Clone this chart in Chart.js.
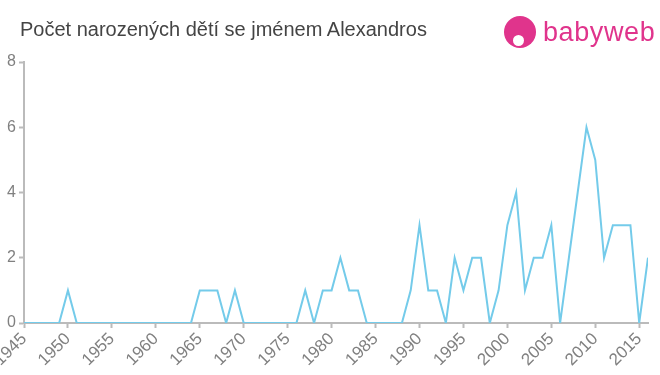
<!DOCTYPE html>
<html lang="cs">
<head>
  <meta charset="UTF-8" />
  <title>Alexandros</title>
  <script src="https://cdn.jsdelivr.net/npm/chart.js"></script>
  <style>
    body { margin: 0; background: #fff; font-family: "Liberation Sans", Arial, sans-serif; }
    .wrap { position: relative; width: 660px; height: 375px; }
    .nadpis { position: absolute; left: 20px; top: 18px; font-size: 20px; color: #444; }
    .logo { position: absolute; left: 504px; top: 15px; height: 34px; display: flex; align-items: center; }
    .logo .ikona { width: 32px; height: 32px; border-radius: 50%; background: #e0348c; position: relative; }
    .logo .ikona::after { content: ""; position: absolute; left: 9px; top: 19px; width: 11px; height: 11px; border-radius: 50%; background: #fff; }
    .logo span { font-size: 27px; color: #e0348c; margin-left: 7px; letter-spacing: 0.6px; }
    canvas { position: absolute; left: 0; top: 0; }
  </style>
</head>
<body>
  <div class="wrap">
    <canvas id="graf" width="660" height="375"></canvas>
    <div class="nadpis">Počet narozených dětí se jménem Alexandros</div>
    <div class="logo"><div class="ikona"></div><span>babyweb</span></div>
  </div>

  <script>
    // roky a pocty narozenych
    const roky = [1945, 1946, 1947, 1948, 1949, 1950, 1951, 1952, 1953, 1954, 1955, 1956, 1957, 1958, 1959,
      1960, 1961, 1962, 1963, 1964, 1965, 1966, 1967, 1968, 1969, 1970, 1971, 1972, 1973, 1974,
      1975, 1976, 1977, 1978, 1979, 1980, 1981, 1982, 1983, 1984, 1985, 1986, 1987, 1988, 1989,
      1990, 1991, 1992, 1993, 1994, 1995, 1996, 1997, 1998, 1999, 2000, 2001, 2002, 2003, 2004,
      2005, 2006, 2007, 2008, 2009, 2010, 2011, 2012, 2013, 2014, 2015, 2016];
    const pocty = [0, 0, 0, 0, 0, 1, 0, 0, 0, 0, 0, 0, 0, 0, 0,
      0, 0, 0, 0, 0, 1, 1, 1, 0, 1, 0, 0, 0, 0, 0,
      0, 0, 1, 0, 1, 1, 2, 1, 1, 0, 0, 0, 0, 0, 1,
      3, 1, 1, 0, 2, 1, 2, 2, 0, 1, 3, 4, 1, 2, 2,
      3, 0, 2, 4, 6, 5, 2, 3, 3, 3, 0, 2];
    const xTicky = [1945, 1950, 1955, 1960, 1965, 1970, 1975, 1980, 1985, 1990, 1995, 2000, 2005, 2010, 2015];
    const yTicky = [0, 2, 4, 6, 8];

    const body = roky.map((r, i) => ({ x: r, y: pocty[i] }));
    const rodina = '"Liberation Sans", Arial, sans-serif';

    const config = {
      type: 'line',
      data: {
        datasets: [{
          data: body,
          borderColor: '#74cbea',
          borderWidth: 2,
          pointRadius: 0,
          tension: 0,
          fill: false
        }]
      },
      options: {
        responsive: false,
        animation: false,
        layout: { padding: { top: 62, right: 12, left: 0, bottom: 0 } },
        plugins: { legend: { display: false }, tooltip: { enabled: false } },
        scales: {
          x: {
            type: 'linear',
            min: 1945,
            max: 2016,
            afterBuildTicks: s => { s.ticks = xTicky.map(v => ({ value: v })); },
            ticks: {
              autoSkip: false,
              maxRotation: 45,
              minRotation: 45,
              padding: 1,
              color: '#808080',
              font: { size: 17, family: rodina },
              callback: v => String(v)
            },
            grid: { display: true, drawOnChartArea: false, drawTicks: true, tickLength: 5, tickColor: '#bbb', tickWidth: 2 },
            border: { color: '#bbb', width: 2 },
            afterFit: s => { s.height = 52; s.paddingLeft = 0; s.paddingRight = 0; }
          },
          y: {
            min: 0,
            max: 8,
            afterBuildTicks: s => { s.ticks = yTicky.map(v => ({ value: v })); },
            ticks: {
              color: '#808080',
              padding: 3,
              font: { size: 16, family: rodina }
            },
            grid: { display: true, drawOnChartArea: false, drawTicks: true, tickLength: 5, tickColor: '#bbb', tickWidth: 2 },
            border: { color: '#bbb', width: 2 },
            afterFit: s => { s.width = 24; }
          }
        }
      }
    };

    new Chart(document.getElementById('graf'), config);
  </script>
</body>
</html>
